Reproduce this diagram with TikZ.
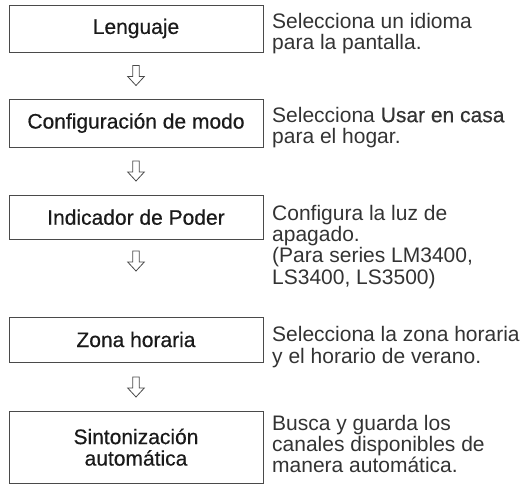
\documentclass[tikz,border=0pt]{standalone}
\usepackage{fontspec}
\setmainfont{Liberation Sans}
\newfontfamily\boxfont[FakeBold=0.5]{Liberation Sans}
\definecolor{framegray}{HTML}{4A4A4A}
\definecolor{desctext}{HTML}{333333}
\definecolor{boxtext}{HTML}{1A1A1A}
\tikzset{
  stepbox/.style={draw=framegray, line width=0.9pt, minimum width=254pt, inner sep=0pt,
    align=center, text=boxtext, font=\boxfont\fontsize{21}{21.5}\selectfont},
  desc/.style={anchor=north west, inner sep=0pt, align=left, text=desctext,
    font=\fontsize{21}{21.3}\selectfont},
  hollowdown/.pic={
    \draw[framegray, line width=0.8pt, line join=miter]
      (-3.3,-10) -- (3.3,-10) -- (3.3,1) -- (8.3,1) -- (0,10) -- (-8.3,1) -- (-3.3,1) -- cycle;
  }
}
\newcommand{\topstrut}{\rule{0pt}{17pt}}
\begin{document}
\begin{tikzpicture}[x=1pt,y=-1pt]
\useasboundingbox (0,0) rectangle (528,488);
% boxes
\node[stepbox, minimum height=47pt] (b1) at (136,28.5) {Lenguaje};
\node[stepbox, minimum height=48pt] (b2) at (136,123) {Configuración de modo};
\node[stepbox, minimum height=44.5pt] (b3) at (136,217.2) {Indicador de Poder};
\node[stepbox, minimum height=45pt] (b4) at (136,339.5) {Zona horaria};
\node[stepbox, minimum height=71.5pt] (b5) at (136,447.2) {Sintonización\\automática};
% descriptions
\node[desc] (d1) at (272,11) {\topstrut Selecciona un idioma\\para la pantalla.};
\node[desc] (d2) at (272,105) {\topstrut Selecciona {\boxfont Usar en casa}\\para el hogar.};
\node[desc] (d3) at (272,203) {\topstrut Configura la luz de\\apagado.\\(Para series LM3400,\\LS3400, LS3500)};
\node[desc] (d4) at (272,324.5) {\topstrut Selecciona la zona horaria\\y el horario de verano.};
\node[desc] (d5) at (272,413) {\topstrut Busca y guarda los\\canales disponibles de\\manera automática.};
% arrows
\coordinate (a1) at (136,75.5);
\coordinate (a2) at (136,171);
\coordinate (a3) at (136,261);
\coordinate (a4) at (136,387);
\pic at (a1) {hollowdown};
\pic at (a2) {hollowdown};
\pic at (a3) {hollowdown};
\pic at (a4) {hollowdown};
\end{tikzpicture}
\end{document}
